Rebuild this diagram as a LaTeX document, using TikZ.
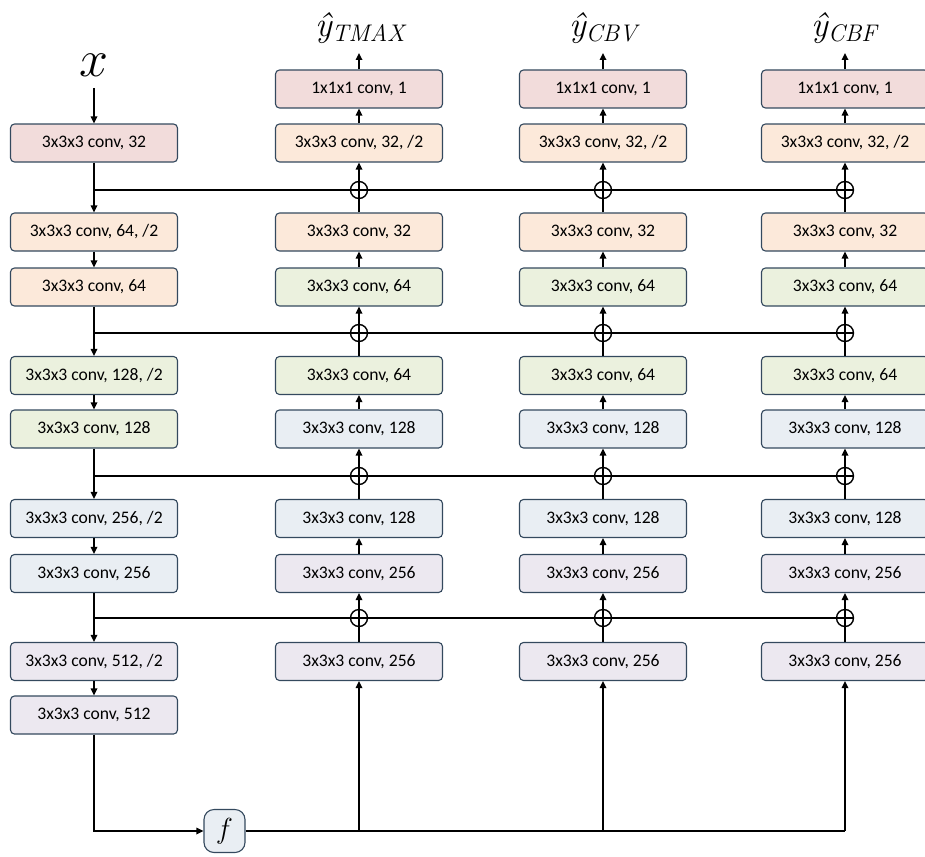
\RequirePackage{fix-cm}
\documentclass[tikz,border=0pt]{standalone}
\usepackage{fontspec}
\setmainfont{Carlito}
\newfontfamily\lmr{Latin Modern Roman}
\usetikzlibrary{arrows.meta}
\definecolor{cpink}{HTML}{F2DCDB}
\definecolor{cpeach}{HTML}{FCE9DA}
\definecolor{cgreen}{HTML}{EBF1DE}
\definecolor{cblue}{HTML}{E9EEF3}
\definecolor{clav}{HTML}{ECE8F0}
\definecolor{cborder}{HTML}{34495E}
\newcommand{\outlab}[1]{{\lmr\itshape\fontsize{35}{35}\selectfont ŷ\raisebox{-5pt}{\fontsize{24}{24}\selectfont #1}}}
\begin{document}
\begin{tikzpicture}[x=1pt,y=-1pt,
  box/.style={draw=cborder, line width=1.1pt, rounded corners=4pt, minimum width=167pt, minimum height=38pt, inner sep=0pt, font=\fontsize{17.6}{20}\selectfont},
  con/.style={line width=1.6pt},
  arr/.style={con,-{Triangle[length=7pt,width=6.5pt]}},
  opl/.style={circle, draw, line width=1.4pt, minimum size=17pt, inner sep=0pt,
    path picture={\draw[line width=1.4pt] (path picture bounding box.north) -- (path picture bounding box.south) (path picture bounding box.west) -- (path picture bounding box.east);}}]
\clip (0,0) rectangle (925,856);

% column 1 (encoder)
\node[box, fill=cpink]  (a1) at (94,143)   {3x3x3 conv, 32};
\node[box, fill=cpeach] (a2) at (94,232)   {3x3x3 conv, 64, /2};
\node[box, fill=cpeach] (a3) at (94,287)   {3x3x3 conv, 64};
\node[box, fill=cgreen] (a4) at (94,375.5) {3x3x3 conv, 128, /2};
\node[box, fill=cgreen] (a5) at (94,429)   {3x3x3 conv, 128};
\node[box, fill=cblue]  (a6) at (94,518.5) {3x3x3 conv, 256, /2};
\node[box, fill=cblue]  (a7) at (94,573.5) {3x3x3 conv, 256};
\node[box, fill=clav]   (a8) at (94,661.5) {3x3x3 conv, 512, /2};
\node[box, fill=clav]   (a9) at (94,715)   {3x3x3 conv, 512};

\node[inner sep=0pt, font=\fontsize{52}{52}\selectfont] (xl) at (94,65) {$x$};
\coordinate (xs) at (94,88);

% decoder columns
\foreach \c/\xx/\lab/\lx in {b/359/{TMAX}/360, c/603/{CBV}/603, d/845/{CBF}/844}{
  \node[box, fill=cpink]  (\c t) at (\xx,89)    {1x1x1 conv, 1};
  \node[box, fill=cpeach] (\c1) at (\xx,143)   {3x3x3 conv, 32, /2};
  \node[box, fill=cpeach] (\c2) at (\xx,232)   {3x3x3 conv, 32};
  \node[box, fill=cgreen] (\c3) at (\xx,287)   {3x3x3 conv, 64};
  \node[box, fill=cgreen] (\c4) at (\xx,375.5) {3x3x3 conv, 64};
  \node[box, fill=cblue]  (\c5) at (\xx,429)   {3x3x3 conv, 128};
  \node[box, fill=cblue]  (\c6) at (\xx,518.5) {3x3x3 conv, 128};
  \node[box, fill=clav]   (\c7) at (\xx,573.5) {3x3x3 conv, 256};
  \node[box, fill=clav]   (\c8) at (\xx,661.5) {3x3x3 conv, 256};
  \node[opl] (\c p1) at (\xx,190) {};
  \node[opl] (\c p2) at (\xx,333) {};
  \node[opl] (\c p3) at (\xx,476) {};
  \node[opl] (\c p4) at (\xx,618) {};
  \coordinate (\c o) at (\xx,53);
  \node[inner sep=0pt] (\c y) at (\lx,28) {\outlab{\lab}};
  \draw[arr] (\c8.north) -- (\c7.south);
  \draw[arr] (\c7.north) -- (\c6.south);
  \draw[arr] (\c6.north) -- (\c5.south);
  \draw[arr] (\c5.north) -- (\c4.south);
  \draw[arr] (\c4.north) -- (\c3.south);
  \draw[arr] (\c3.north) -- (\c2.south);
  \draw[arr] (\c2.north) -- (\c1.south);
  \draw[arr] (\c1.north) -- (\c t.south);
  \draw[arr] (\c t.north) -- (\c o);
}

% f node
\node[draw=cborder, fill=cblue, line width=1.1pt, rounded corners=10pt, minimum width=41pt, minimum height=43pt, inner sep=0pt, font=\fontsize{29}{29}\selectfont] (f) at (224.5,831) {$f$};

% encoder connections
\draw[arr] (xs) -- (a1.north);
\draw[arr] (a1) -- (a2);
\draw[arr] (a2) -- (a3);
\draw[arr] (a3) -- (a4);
\draw[arr] (a4) -- (a5);
\draw[arr] (a5) -- (a6);
\draw[arr] (a6) -- (a7);
\draw[arr] (a7) -- (a8);
\draw[arr] (a8) -- (a9);
\draw[arr] (a9.south) |- (f.west);

% skip connections
\draw[con] (a1.south |- dp1) -- (dp1.center);
\draw[con] (a3.south |- dp2) -- (dp2.center);
\draw[con] (a5.south |- dp3) -- (dp3.center);
\draw[con] (a7.south |- dp4) -- (dp4.center);

% bottleneck distribution
\draw[con] (f.east) -- (d8.south |- f.east);
\draw[arr] (b8.south |- f.east) -- (b8.south);
\draw[arr] (c8.south |- f.east) -- (c8.south);
\draw[arr] (d8.south |- f.east) -- (d8.south);
\end{tikzpicture}
\end{document}
